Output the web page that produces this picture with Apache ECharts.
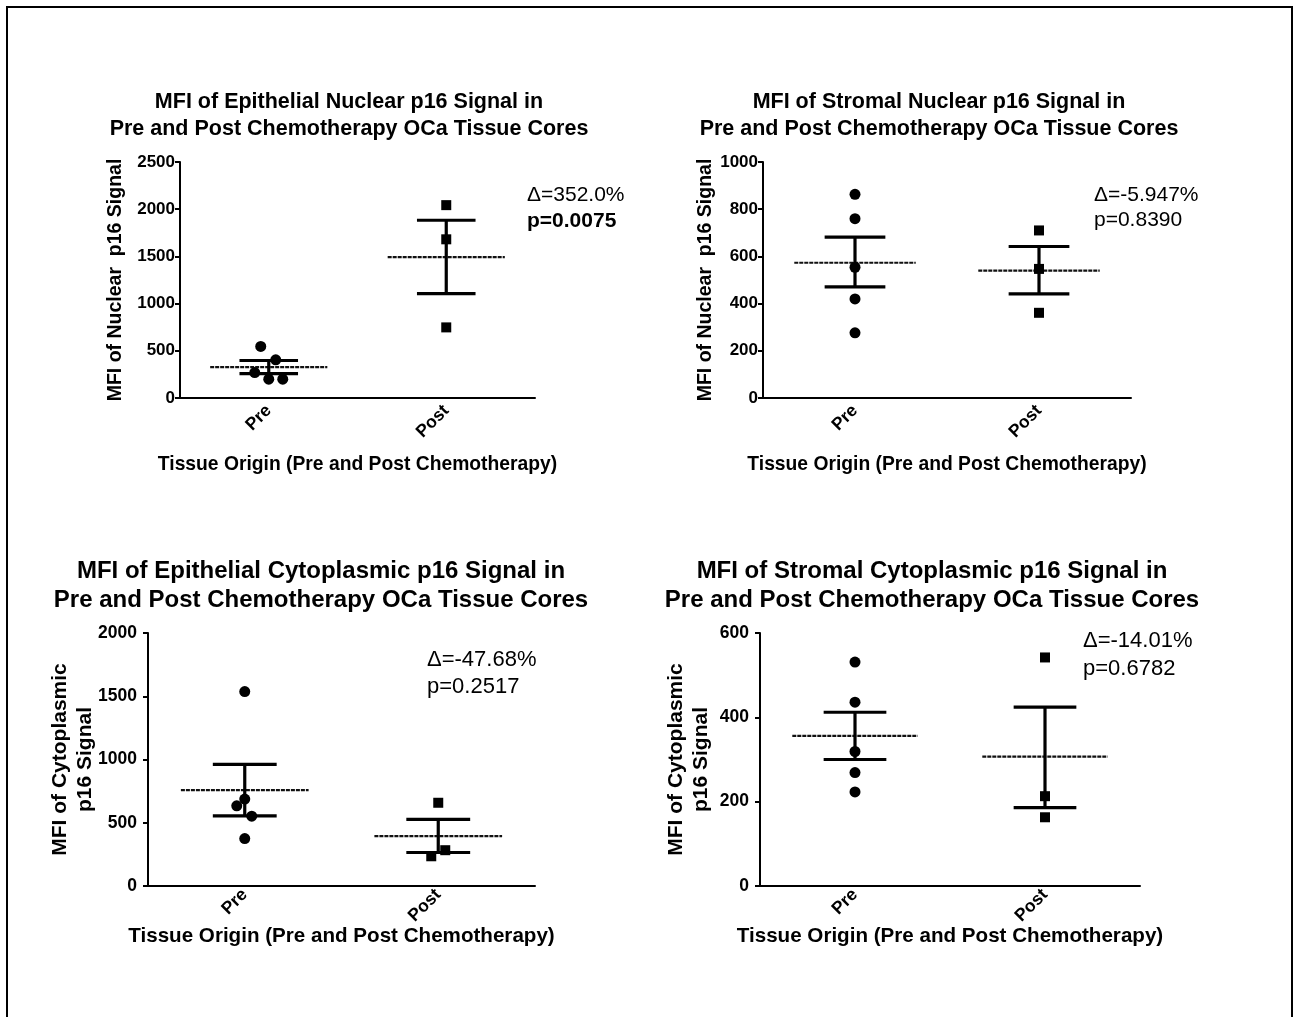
<!DOCTYPE html>
<html>
<head>
<meta charset="utf-8">
<script src="https://cdn.jsdelivr.net/npm/echarts@6/dist/echarts.min.js"></script>
<style>
html,body{margin:0;padding:0;background:#fff;}
#chart{width:1294px;height:1017px;}
</style>
</head>
<body>
<div id="chart"></div>
<script>
// ---------- data ----------
const categories = ['Pre', 'Post'];

const titles = [
  'MFI of Epithelial Nuclear p16 Signal in\nPre and Post Chemotherapy OCa Tissue Cores',
  'MFI of Stromal Nuclear p16 Signal in\nPre and Post Chemotherapy OCa Tissue Cores',
  'MFI of Epithelial Cytoplasmic p16 Signal in\nPre and Post Chemotherapy OCa Tissue Cores',
  'MFI of Stromal Cytoplasmic p16 Signal in\nPre and Post Chemotherapy OCa Tissue Cores'
];
const yNames = ['MFI of Nuclear  p16 Signal', 'MFI of Nuclear  p16 Signal',
                'MFI of Cytoplasmic\np16 Signal', 'MFI of Cytoplasmic\np16 Signal'];
const xName = 'Tissue Origin (Pre and Post Chemotherapy)';

const yMax = [2500, 1000, 2000, 600];
const yStep = [500, 200, 500, 200];

// panel 1: epithelial nuclear
const p1Pre = [546, 404, 269, 199, 199];
const p1Post = [2043, 1681, 748];
const p1Mean = [327, 1493];
const p1Lo = [258, 1106];
const p1Hi = [397, 1883];
// panel 2: stromal nuclear
const p2Pre = [863, 760, 554, 420, 276];
const p2Post = [710, 547, 361];
const p2Mean = [573, 540];
const p2Lo = [471, 441];
const p2Hi = [682, 642];
// panel 3: epithelial cytoplasmic
const p3Pre = [1537, 687, 634, 552, 375];
const p3Post = [658, 283, 235];
const p3Mean = [758, 394];
const p3Lo = [555, 265];
const p3Hi = [962, 526];
// panel 4: stromal cytoplasmic
const p4Pre = [531, 436, 319, 269, 223];
const p4Post = [542, 213, 163];
const p4Mean = [356, 307];
const p4Lo = [300, 186];
const p4Hi = [412, 424];

const deltaText = ['\u0394=352.0%', '\u0394=-5.947%', '\u0394=-47.68%', '\u0394=-14.01%'];
const pText = ['p=0.0075', 'p=0.8390', 'p=0.2517', 'p=0.6782'];

// ---------- layout / style (not data) ----------
const FONT = 'Arial, "Liberation Sans", sans-serif';
const grids = [
  {left: 180, top: 162, width: 355, height: 236},
  {left: 763, top: 162, width: 368, height: 236},
  {left: 148, top: 633, width: 387, height: 253},
  {left: 760, top: 633, width: 380, height: 253}
];
// horizontal spread of overlapping points (px), as drawn by the original software
const preJit = [[-8, 7, -14, 0, 14], [0,0,0,0,0], [0, 0, -8, 7, 0], [0,0,0,0,0]];
const postJit = [[0,0,0], [0,0,0], [0, 7, -7], [0,0,0]];
const titlePos = [[344, 84], [934, 84], [316, 552], [927, 552]];
const annoPos = [[527, 195, 221], [1094, 195, 220], [427, 660, 687], [1083, 641, 669]];
const yNameGap = [52, 45, 50, 46];
const xNameGap = [57, 57, 40, 40];

const pre = [p1Pre, p2Pre, p3Pre, p4Pre];
const post = [p1Post, p2Post, p3Post, p4Post];
const means = [p1Mean, p2Mean, p3Mean, p4Mean];
const los = [p1Lo, p2Lo, p3Lo, p4Lo];
const his = [p1Hi, p2Hi, p3Hi, p4Hi];

function renderErr(params, api) {
  const x = api.value(0);
  const c = api.coord([x, api.value(1)]);
  const lo = api.coord([x, api.value(2)]);
  const hi = api.coord([x, api.value(3)]);
  const band = api.size([1, 0])[0];
  const mh = band * 0.33, ch = band * 0.165;
  return {
    type: 'group',
    children: [
      {type: 'line', shape: {x1: c[0] - mh, y1: c[1], x2: c[0] + mh, y2: c[1]},
       style: {stroke: '#111', lineWidth: 2.2, lineDash: [4, 1]}},
      {type: 'line', shape: {x1: c[0], y1: lo[1], x2: c[0], y2: hi[1]},
       style: {stroke: '#000', lineWidth: 3.2}},
      {type: 'line', shape: {x1: c[0] - ch, y1: lo[1], x2: c[0] + ch, y2: lo[1]},
       style: {stroke: '#000', lineWidth: 3.2}},
      {type: 'line', shape: {x1: c[0] - ch, y1: hi[1], x2: c[0] + ch, y2: hi[1]},
       style: {stroke: '#000', lineWidth: 3.2}}
    ]
  };
}

const option = {
  animation: false,
  backgroundColor: '#fff',
  title: titles.map((t, i) => ({
    text: t, left: titlePos[i][0], top: titlePos[i][1], textAlign: 'center',
    textStyle: {fontFamily: FONT, fontWeight: 'bold', fontSize: i < 2 ? 21.5 : 24,
                lineHeight: i < 2 ? 27 : 29, color: '#000'}
  })),
  grid: grids,
  xAxis: grids.map((g, i) => ({
    gridIndex: i, type: 'category', data: categories,
    name: xName, nameLocation: 'middle', nameGap: xNameGap[i], nameMoveOverlap: false,
    nameTextStyle: {fontFamily: FONT, fontWeight: 'bold', fontSize: i < 2 ? 19.3 : 20.6, color: '#000'},
    axisLine: {lineStyle: {color: '#000', width: 2}},
    axisTick: {alignWithLabel: true, length: 6, lineStyle: {width: 2, color: '#000'}},
    axisLabel: {rotate: 45, margin: i < 2 ? 10 : 6, fontFamily: FONT, fontWeight: 'bold',
                fontSize: 17.5, color: '#000'},
    splitLine: {show: false}
  })),
  yAxis: grids.map((g, i) => ({
    gridIndex: i, type: 'value', min: 0, max: yMax[i], interval: yStep[i],
    name: yNames[i], nameLocation: 'middle', nameGap: yNameGap[i], nameRotate: 90, nameMoveOverlap: false,
    nameTextStyle: {fontFamily: FONT, fontWeight: 'bold', fontSize: i < 2 ? 19.5 : 21, color: '#000',
                    lineHeight: 25},
    axisLine: {show: true, lineStyle: {color: '#000', width: 2}},
    axisTick: {show: true, length: 5, lineStyle: {width: 2, color: '#000'}},
    axisLabel: {margin: i < 2 ? 5 : 11, fontFamily: FONT, fontWeight: 'bold', fontSize: i < 2 ? 17 : 17.5, color: '#000',
                formatter: v => String(v)},
    splitLine: {show: false}
  })),
  series: [],
  graphic: [
    {type: 'rect', shape: {x: 7, y: 7, width: 1285, height: 1030},
     style: {fill: 'none', stroke: '#000', lineWidth: 2}, silent: true}
  ]
};

for (let i = 0; i < 4; i++) {
  option.series.push({
    type: 'scatter', xAxisIndex: i, yAxisIndex: i, symbol: 'circle', symbolSize: 11,
    itemStyle: {color: '#000', opacity: 1}, z: 3,
    data: pre[i].map((v, k) => ({value: [0, v], symbolOffset: [preJit[i][k], 0]}))
  });
  option.series.push({
    type: 'scatter', xAxisIndex: i, yAxisIndex: i, symbol: 'rect', symbolSize: 10,
    itemStyle: {color: '#000', opacity: 1}, z: 3,
    data: post[i].map((v, k) => ({value: [1, v], symbolOffset: [postJit[i][k], 0]}))
  });
  option.series.push({
    type: 'custom', xAxisIndex: i, yAxisIndex: i, renderItem: renderErr, z: 2,
    data: [0, 1].map(k => [k, means[i][k], los[i][k], his[i][k]])
  });
  const fs = i < 2 ? 21 : 22;
  option.graphic.push({type: 'text', x: annoPos[i][0], y: annoPos[i][1],
    style: {text: deltaText[i], font: `${fs}px ${FONT}`, fill: '#000', textVerticalAlign: 'middle'}});
  option.graphic.push({type: 'text', x: annoPos[i][0], y: annoPos[i][2],
    style: {text: pText[i], font: `${i === 0 ? 'bold ' : ''}${fs}px ${FONT}`, fill: '#000', textVerticalAlign: 'middle'}});
}

const chart = echarts.init(document.getElementById('chart'), null, {renderer: 'canvas'});
chart.setOption(option);
</script>
</body>
</html>
